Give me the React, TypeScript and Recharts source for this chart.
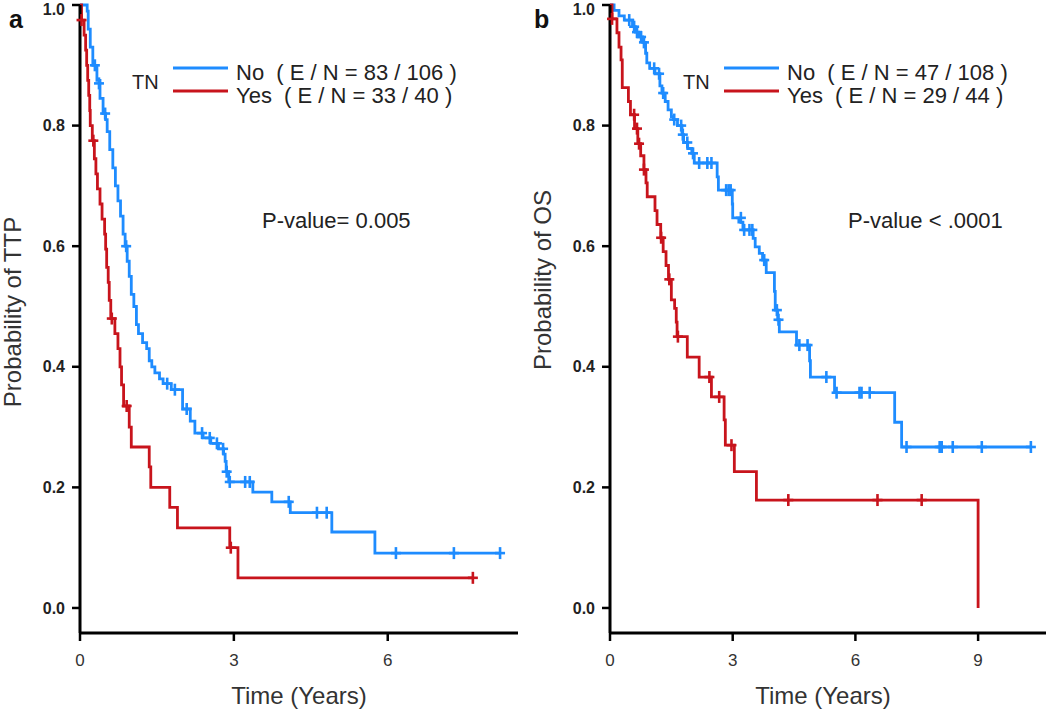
import { ComposedChart, Line, Scatter, XAxis, YAxis } from "recharts";

const BLUE = "#1e8cff";
const RED = "#c8141c";
const FONT = '"Liberation Sans", Arial, Helvetica, sans-serif';

// [time in years, survival probability]
const ttpNoCurve = [
  [0, 1.0], [0.14, 0.99], [0.16, 0.96], [0.2, 0.93], [0.25, 0.9], [0.33, 0.875],
  [0.39, 0.845], [0.45, 0.82], [0.5, 0.81], [0.53, 0.79], [0.58, 0.76], [0.64, 0.73],
  [0.69, 0.7], [0.74, 0.675], [0.79, 0.65], [0.84, 0.62], [0.88, 0.6], [0.92, 0.575],
  [0.96, 0.55], [1.0, 0.52], [1.05, 0.5], [1.1, 0.47], [1.14, 0.455], [1.22, 0.44],
  [1.3, 0.43], [1.35, 0.41], [1.4, 0.4], [1.46, 0.39], [1.55, 0.38], [1.62, 0.372],
  [1.78, 0.362], [2.0, 0.33], [2.15, 0.31], [2.24, 0.29], [2.4, 0.282], [2.55, 0.273],
  [2.7, 0.264], [2.8, 0.255], [2.83, 0.243], [2.85, 0.226], [2.9, 0.209], [3.37, 0.192],
  [3.74, 0.176], [4.1, 0.158], [4.91, 0.126], [5.75, 0.091], [8.19, 0.091],
];
const ttpNoCensored = [
  [0.29, 0.9], [0.37, 0.87], [0.49, 0.82], [0.9, 0.6], [1.7, 0.372], [1.85, 0.362],
  [2.08, 0.33], [2.38, 0.29], [2.53, 0.282], [2.67, 0.273], [2.79, 0.264], [2.86, 0.226],
  [2.92, 0.209], [3.22, 0.209], [3.31, 0.209], [4.07, 0.176], [4.62, 0.158], [4.81, 0.158],
  [6.16, 0.091], [7.29, 0.091], [8.19, 0.091],
];
const ttpYesCurve = [
  [0, 1.0], [0.03, 0.975], [0.08, 0.95], [0.11, 0.925], [0.13, 0.9], [0.15, 0.875],
  [0.17, 0.85], [0.19, 0.825], [0.2, 0.8], [0.24, 0.775], [0.28, 0.745], [0.31, 0.72],
  [0.34, 0.695], [0.39, 0.67], [0.43, 0.645], [0.48, 0.62], [0.5, 0.595], [0.52, 0.565],
  [0.55, 0.54], [0.57, 0.51], [0.6, 0.48], [0.68, 0.455], [0.74, 0.43], [0.78, 0.4],
  [0.81, 0.37], [0.85, 0.335], [0.96, 0.3], [1.0, 0.267], [1.35, 0.234], [1.38, 0.2],
  [1.75, 0.167], [1.9, 0.133], [2.92, 0.1], [3.08, 0.05], [7.66, 0.05],
];
const ttpYesCensored = [
  [0.03, 0.975], [0.26, 0.775], [0.62, 0.48], [0.91, 0.335], [2.94, 0.1], [7.66, 0.05],
];

const osNoCurve = [
  [0, 1], [0.1, 0.991], [0.22, 0.982], [0.35, 0.975], [0.55, 0.964], [0.62, 0.955],
  [0.7, 0.947], [0.8, 0.938], [0.87, 0.92], [0.9, 0.904], [0.97, 0.895], [1.1, 0.886],
  [1.22, 0.866], [1.27, 0.854], [1.35, 0.84], [1.42, 0.826], [1.5, 0.815], [1.55, 0.81],
  [1.65, 0.8], [1.76, 0.785], [1.8, 0.772], [1.9, 0.762], [2.0, 0.754], [2.06, 0.738],
  [2.62, 0.715], [2.65, 0.693], [2.99, 0.67], [3.0, 0.647], [3.15, 0.64], [3.25, 0.627],
  [3.5, 0.613], [3.55, 0.599], [3.65, 0.588], [3.73, 0.577], [3.82, 0.556], [4.02, 0.525],
  [4.04, 0.494], [4.1, 0.478], [4.14, 0.458], [4.56, 0.436], [4.88, 0.41], [4.9, 0.383],
  [5.49, 0.357], [6.96, 0.308], [7.13, 0.267], [10.29, 0.267],
];
const osNoCensored = [
  [0.47, 0.975], [0.59, 0.964], [0.66, 0.955], [0.76, 0.947], [0.83, 0.938], [1.08, 0.895],
  [1.2, 0.886], [1.3, 0.854], [1.57, 0.81], [1.74, 0.8], [1.78, 0.785], [1.89, 0.772],
  [2.03, 0.754], [2.18, 0.738], [2.38, 0.738], [2.48, 0.738], [2.84, 0.693], [2.9, 0.693],
  [2.95, 0.693], [3.2, 0.647], [3.28, 0.627], [3.41, 0.627], [3.48, 0.627], [3.77, 0.577],
  [4.08, 0.494], [4.12, 0.478], [4.63, 0.436], [4.83, 0.436], [5.29, 0.383], [5.54, 0.357],
  [6.1, 0.357], [6.15, 0.357], [6.35, 0.357], [7.25, 0.267], [8.06, 0.267], [8.11, 0.267],
  [8.38, 0.267], [9.09, 0.267], [10.29, 0.267],
];
const osYesCurve = [
  [0, 1], [0.05, 0.977], [0.17, 0.954], [0.22, 0.93], [0.27, 0.909], [0.3, 0.863],
  [0.45, 0.84], [0.5, 0.818], [0.6, 0.795], [0.68, 0.77], [0.75, 0.75], [0.83, 0.727],
  [0.88, 0.705], [0.91, 0.682], [1.1, 0.659], [1.15, 0.636], [1.24, 0.614], [1.3, 0.591],
  [1.37, 0.568], [1.43, 0.545], [1.5, 0.511], [1.58, 0.497], [1.62, 0.474], [1.64, 0.45],
  [1.89, 0.416], [2.18, 0.383], [2.48, 0.35], [2.79, 0.312], [2.82, 0.27], [3.04, 0.226],
  [3.58, 0.179], [9.0, 0.0],
];
const osYesCensored = [
  [0.05, 0.977], [0.59, 0.818], [0.66, 0.795], [0.71, 0.77], [0.83, 0.727], [1.25, 0.614],
  [1.45, 0.545], [1.66, 0.45], [2.43, 0.383], [2.67, 0.35], [2.97, 0.27], [4.36, 0.179],
  [6.54, 0.179], [7.62, 0.179],
];

const yTicks = [0, 0.2, 0.4, 0.6, 0.8, 1.0];
const ttpXTicks = [0, 3, 6];
const osXTicks = [0, 3, 6, 9];
const ttpLegend = ["No  ( E / N = 83 / 106 )", "Yes  ( E / N = 33 / 40 )"];
const osLegend = ["No  ( E / N = 47 / 108 )", "Yes  ( E / N = 29 / 44 )"];

const toPts = (rows: number[][]) => rows.map(([t, s]) => ({ t, s }));

const censorMark = (color: string) => (props: any) => {
  const { cx, cy } = props;
  return (
    <g stroke={color} strokeWidth={2.6}>
      <line x1={cx} x2={cx} y1={cy - 6} y2={cy + 6} />
      <line x1={cx - 5} x2={cx + 5} y1={cy} y2={cy} />
    </g>
  );
};

interface PanelProps {
  left: number;
  yAxisWidth: number;
  rightMargin: number;
  xMax: number;
  xTicks: number[];
  letter: string;
  yTitle: string;
  yTitlePos: [number, number];
  xTitleX: number;
  noCurve: number[][];
  noCens: number[][];
  yesCurve: number[][];
  yesCens: number[][];
  legend: string[];
  legendX: number;
  pValue: string;
  pX: number;
}

function Panel(p: PanelProps) {
  const W = 525;
  const H = 710;
  const lx = p.legendX;
  return (
    <div style={{ position: "absolute", left: p.left, top: 0, width: W, height: H }}>
      <ComposedChart
        width={W}
        height={H}
        margin={{ top: 5, right: p.rightMargin, bottom: 0, left: 0 }}
      >
        <XAxis
          type="number"
          dataKey="t"
          domain={[0, p.xMax]}
          ticks={p.xTicks}
          height={77}
          axisLine={{ stroke: "#000", strokeWidth: 3 }}
          tickLine={{ stroke: "#000", strokeWidth: 2.5 }}
          tickSize={8}
          tickMargin={13}
          tick={{ fill: "#333", fontSize: 17, fontFamily: FONT }}
          label={{
            content: () => (
              <text
                x={p.xTitleX}
                y={695}
                textAnchor="middle"
                dominantBaseline="central"
                fontSize={24}
                fontFamily={FONT}
                fill="#333"
              >
                Time (Years)
              </text>
            ),
          }}
        />
        <YAxis
          type="number"
          dataKey="s"
          domain={[-0.0415, 1]}
          ticks={yTicks}
          width={p.yAxisWidth}
          axisLine={{ stroke: "#000", strokeWidth: 3 }}
          tickLine={{ stroke: "#000", strokeWidth: 2.5 }}
          tickSize={8}
          tickMargin={7}
          tickFormatter={(v: number) => v.toFixed(1)}
          tick={{ fill: "#222", fontSize: 16, fontWeight: "bold", fontFamily: FONT }}
          label={{
            content: () => (
              <text
                x={p.yTitlePos[0]}
                y={p.yTitlePos[1]}
                transform={`rotate(-90 ${p.yTitlePos[0]} ${p.yTitlePos[1]})`}
                textAnchor="middle"
                dominantBaseline="central"
                fontSize={24}
                fontFamily={FONT}
                fill="#333"
              >
                {p.yTitle}
              </text>
            ),
          }}
        />
        <Line
          data={toPts(p.noCurve)}
          dataKey="s"
          type="stepAfter"
          stroke={BLUE}
          strokeWidth={2.8}
          dot={false}
          isAnimationActive={false}
        />
        <Line
          data={toPts(p.yesCurve)}
          dataKey="s"
          type="stepAfter"
          stroke={RED}
          strokeWidth={2.8}
          dot={false}
          isAnimationActive={false}
        />
        <Scatter
          data={toPts(p.noCens)}
          dataKey="s"
          shape={censorMark(BLUE)}
          isAnimationActive={false}
        />
        <Scatter
          data={toPts(p.yesCens)}
          dataKey="s"
          shape={censorMark(RED)}
          isAnimationActive={false}
        />
      </ComposedChart>
      <svg
        width={W}
        height={H}
        style={{ position: "absolute", left: 0, top: 0, pointerEvents: "none" }}
        fontFamily={FONT}
      >
        <text x={9} y={28} fontSize={25} fontWeight="bold" fill="#111">
          {p.letter}
        </text>
        <text x={lx} y={82} dominantBaseline="central" fontSize={20} fill="#222">
          TN
        </text>
        <line x1={lx + 41} x2={lx + 96} y1={68} y2={68} stroke={BLUE} strokeWidth={3} />
        <line x1={lx + 41} x2={lx + 96} y1={91} y2={91} stroke={RED} strokeWidth={3} />
        <text x={lx + 104} y={72} dominantBaseline="central" fontSize={22} fill="#222" style={{ whiteSpace: "pre" }}>
          {p.legend[0]}
        </text>
        <text x={lx + 104} y={95} dominantBaseline="central" fontSize={22} fill="#222" style={{ whiteSpace: "pre" }}>
          {p.legend[1]}
        </text>
        <text x={p.pX} y={220} dominantBaseline="central" fontSize={22} fill="#222">
          {p.pValue}
        </text>
      </svg>
    </div>
  );
}

export default function App() {
  return (
    <div
      style={{
        position: "absolute",
        left: 0,
        top: 0,
        width: 1050,
        height: 710,
        background: "#fff",
        overflow: "hidden",
      }}
    >
      <Panel
        left={0}
        yAxisWidth={80}
        rightMargin={7}
        xMax={8.54}
        xTicks={ttpXTicks}
        letter="a"
        yTitle="Probability of TTP"
        yTitlePos={[12, 312]}
        xTitleX={299}
        noCurve={ttpNoCurve}
        noCens={ttpNoCensored}
        yesCurve={ttpYesCurve}
        yesCens={ttpYesCensored}
        legend={ttpLegend}
        legendX={132}
        pValue="P-value= 0.005"
        pX={262}
      />
      <Panel
        left={525}
        yAxisWidth={85}
        rightMargin={4}
        xMax={10.66}
        xTicks={osXTicks}
        letter="b"
        yTitle="Probability of OS"
        yTitlePos={[17, 280]}
        xTitleX={298}
        noCurve={osNoCurve}
        noCens={osNoCensored}
        yesCurve={osYesCurve}
        yesCens={osYesCensored}
        legend={osLegend}
        legendX={158}
        pValue="P-value < .0001"
        pX={323}
      />
    </div>
  );
}
